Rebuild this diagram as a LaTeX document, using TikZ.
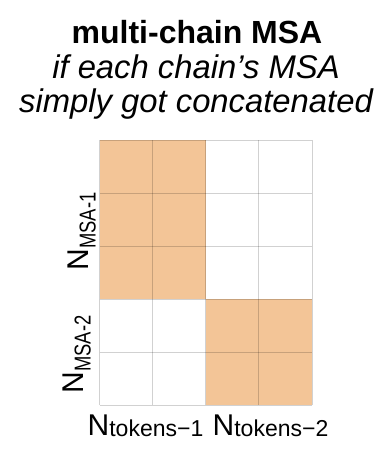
\documentclass[tikz,border=0pt]{standalone}
\usepackage{fontspec}
\setmainfont{Liberation Sans}
\usetikzlibrary{positioning}
\definecolor{msaorange}{RGB}{243,197,151}
% N with a large subscript: #1 = drop of the subscript, #2 = subscript text
\newcommand{\Nsub}[2][0.5pt]{{\fontsize{15}{15}\selectfont N}{\fontsize{11.5}{11.5}\selectfont\raisebox{-#1}{#2}}}
\begin{document}
\begin{tikzpicture}[
  x=0.5pt, y=-0.5pt,
  msacell/.style = {fill=msaorange},
  msagrid/.style = {draw=black, draw opacity=0.18, line width=0.5pt},
  msatitle/.style = {font=\bfseries\fontsize{16}{16}\selectfont, anchor=base},
  msasub/.style = {font=\itshape\fontsize{16.4}{16.4}\selectfont, anchor=base},
  msalbl/.style = {inner sep=0pt}
]
  \fill[white] (0,0) rectangle (390,456);
  \useasboundingbox (0,0) rectangle (390,456);
  % title
  \node[msatitle] (title) at (197,43.5) {multi-chain MSA};
  \node[msasub] (subone) at (196,78) {if each chain’s MSA};
  \node[msasub] (subtwo) at (196,112) {simply got concatenated};
  % blocks of the two chains
  \fill[msacell] (99.5,140) rectangle (205.7,299);
  \fill[msacell] (205.7,299) rectangle (312,405);
  % grid
  \foreach \x in {99.5,152.6,205.7,258.8,312} {
    \draw[msagrid] (\x,140) -- (\x,405);
  }
  \foreach \y in {140,193,246,299,352,405} {
    \draw[msagrid] (99.5,\y) -- (312,\y);
  }
  % labels
  \node[msalbl, rotate=90] (msaone) at (82,231.5) {\Nsub[3.5pt]{\scalebox{0.8}[1]{MSA-1}}};
  \node[msalbl, rotate=90] (msatwo) at (77,354.5) {\Nsub[3.5pt]{\scalebox{0.8}[1]{MSA-2}}};
  \node[msalbl] (tokone) at (145.5,425.5) {\Nsub{tokens−1}};
  \node[msalbl] (toktwo) at (270.5,425.5) {\Nsub{tokens−2}};
\end{tikzpicture}
\end{document}
